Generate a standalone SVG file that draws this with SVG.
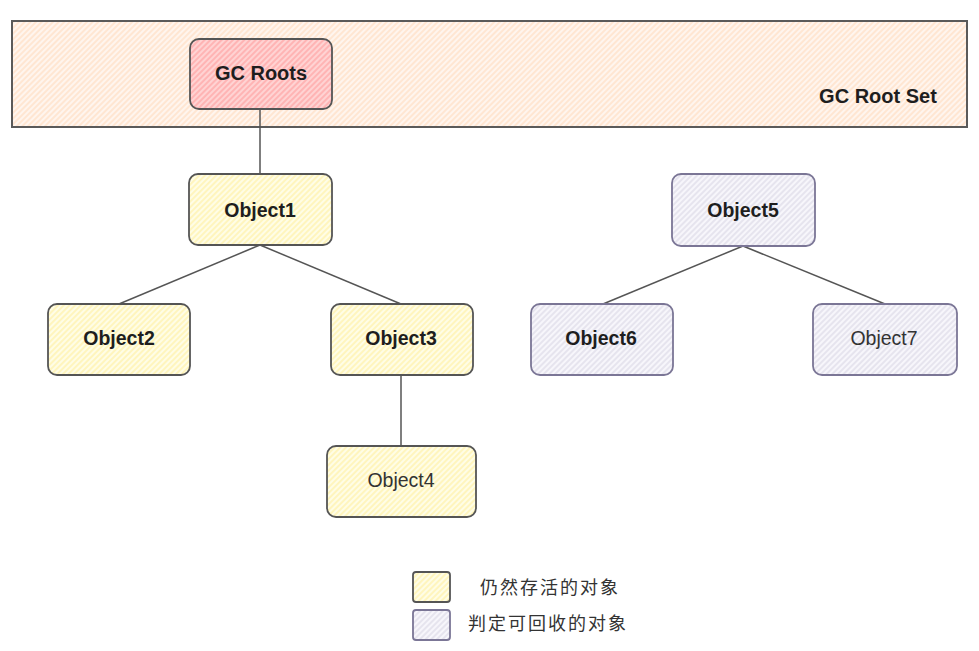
<svg xmlns="http://www.w3.org/2000/svg" width="979" height="651" viewBox="0 0 979 651">
<defs>
<pattern id="hSet" width="4" height="4" patternUnits="userSpaceOnUse" patternTransform="rotate(45)"><rect width="4" height="4" fill="#fff5ee"/><line x1="1" y1="0" x2="1" y2="4" stroke="#ffdcc0" stroke-width="1.2"/></pattern>
<pattern id="hRed" width="4" height="4" patternUnits="userSpaceOnUse" patternTransform="rotate(45)"><rect width="4" height="4" fill="#ffd3d3"/><line x1="1" y1="0" x2="1" y2="4" stroke="#ffa3a3" stroke-width="1.3"/></pattern>
<pattern id="hY" width="4" height="4" patternUnits="userSpaceOnUse" patternTransform="rotate(45)"><rect width="4" height="4" fill="#fffde6"/><line x1="1" y1="0" x2="1" y2="4" stroke="#fff2a8" stroke-width="1.3"/></pattern>
<pattern id="hP" width="4" height="4" patternUnits="userSpaceOnUse" patternTransform="rotate(45)"><rect width="4" height="4" fill="#f7f6fb"/><line x1="1" y1="0" x2="1" y2="4" stroke="#dedbe8" stroke-width="1.3"/></pattern>
</defs>
<style>
.set{fill:url(#hSet);stroke:#5a5a5a;stroke-width:2}
.red{fill:url(#hRed);stroke:#555;stroke-width:1.8}
.yel{fill:url(#hY);stroke:#555;stroke-width:1.8}
.pur{fill:url(#hP);stroke:#7b7696;stroke-width:1.8}
.lbl{font-family:"Liberation Sans",Arial,sans-serif;font-size:19.5px;fill:#1e1e1e;text-anchor:middle}
.b{font-weight:bold}
.n{fill:#333}
.cn{font-family:"Noto Sans CJK SC","Liberation Sans",sans-serif;font-size:18px;fill:#333;letter-spacing:2px}
.conn line{stroke:#555;stroke-width:1.5}
</style>
<rect width="979" height="651" fill="#ffffff"/>
<g id="gcRootSet">
<rect class="set" x="12" y="21" width="955" height="106"/>
<text class="lbl b" x="878" y="103" style="font-size:20px">GC Root Set</text>
</g>
<g class="conn" id="connectors">
<line x1="260" y1="109" x2="260" y2="175"/>
<line x1="260" y1="245" x2="119" y2="304"/>
<line x1="260" y1="245" x2="401" y2="304"/>
<line x1="401" y1="375" x2="401" y2="446"/>
<line x1="743" y1="246" x2="603" y2="304"/>
<line x1="743" y1="246" x2="885" y2="304"/>
</g>
<g id="gcRoots">
<rect class="red" x="190" y="39" width="142" height="70" rx="9"/>
<text class="lbl b" x="261" y="80" style="font-size:20px">GC Roots</text>
</g>
<g id="object1">
<rect class="yel" x="189" y="174" width="143" height="71" rx="9"/>
<text class="lbl b" x="260" y="217">Object1</text>
</g>
<g id="object2">
<rect class="yel" x="48" y="304" width="142" height="71" rx="9"/>
<text class="lbl b" x="119" y="345">Object2</text>
</g>
<g id="object3">
<rect class="yel" x="331" y="304" width="142" height="71" rx="9"/>
<text class="lbl b" x="401" y="345">Object3</text>
</g>
<g id="object4">
<rect class="yel" x="327" y="446" width="149" height="71" rx="9"/>
<text class="lbl n" x="401" y="487">Object4</text>
</g>
<g id="object5">
<rect class="pur" x="672" y="174" width="143" height="72" rx="9"/>
<text class="lbl b" x="743" y="217">Object5</text>
</g>
<g id="object6">
<rect class="pur" x="531" y="304" width="142" height="71" rx="9"/>
<text class="lbl b" x="601" y="345">Object6</text>
</g>
<g id="object7">
<rect class="pur" x="813" y="304" width="144" height="71" rx="9"/>
<text class="lbl n" x="884" y="345">Object7</text>
</g>
<g id="legend">
<rect class="yel" x="413" y="572" width="37" height="30" rx="3"/>
<text class="cn" x="480" y="594">仍然存活的对象</text>
<rect class="pur" x="413" y="610" width="37" height="30" rx="3"/>
<text class="cn" x="468" y="630">判定可回收的对象</text>
</g>
</svg>
